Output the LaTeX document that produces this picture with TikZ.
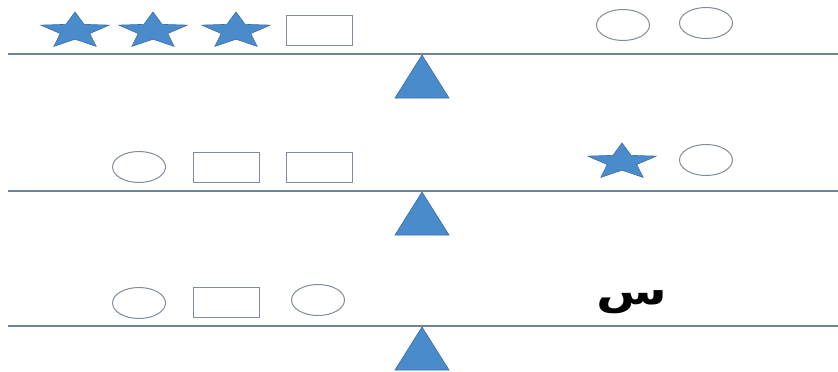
\documentclass[tikz,border=0pt]{standalone}
\usepackage{fontspec}
\usepackage{tikz}
\usetikzlibrary{shapes.geometric}
\TeXXeTstate=1
\newfontfamily\arabicfont[Script=Arabic]{DejaVu Sans}
\definecolor{shapefill}{HTML}{4A8BCB}
\definecolor{shapeedge}{HTML}{3C6E9F}
\definecolor{beam}{HTML}{6F8296}
\definecolor{outline}{HTML}{808C98}

\tikzset{
  bluestar/.pic={
    \filldraw[fill=shapefill, draw=shapeedge, line width=0.6pt]
      (90:36 and -19) \foreach \a in {126,198,270,342,54} {-- (\a:15.5 and -8.2) -- (\a+36:36 and -19)} -- cycle;
  },
  fulcrum/.pic={
    \filldraw[fill=shapefill, draw=shapeedge, line width=0.6pt] (0,0) -- (-27,43) -- (27,43) -- cycle;
  },
}

\begin{document}
\begin{tikzpicture}[
  x=1pt, y=-1pt,
  box/.style={draw=outline, fill=white, line width=1pt, minimum width=66pt, minimum height=30pt, inner sep=0pt},
  oval/.style={draw=outline, fill=white, line width=1pt, ellipse, minimum width=53pt, minimum height=31pt, inner sep=0pt},
  beamline/.style={draw=beam, line width=1.8pt},
]
\useasboundingbox (0,0) rectangle (838,372);

% first balance
\draw[beamline] (8,54) -- (838,54);
\pic (f1) at (422,55) {fulcrum};
\pic (s1) at (75,31) {bluestar};
\pic (s2) at (153,31) {bluestar};
\pic (s3) at (236,31) {bluestar};
\node[box] (b1) at (319,30) {};
\node[oval] (c1) at (623,25) {};
\node[oval] (c2) at (706,23) {};

% second balance
\draw[beamline] (8,191) -- (838,191);
\pic (f2) at (422,192) {fulcrum};
\node[oval] (c3) at (139,167) {};
\node[box] (b2) at (226,167) {};
\node[box] (b3) at (319,167) {};
\pic (s4) at (622,162) {bluestar};
\node[oval] (c4) at (706,160) {};

% third balance
\draw[beamline] (8,326) -- (838,326);
\pic (f3) at (422,327) {fulcrum};
\node[oval] (c5) at (139,303) {};
\node[box] (b4) at (226,302) {};
\node[oval] (c6) at (318,300) {};
\node (x) at (632,302) {\scalebox{1.35}[1]{\arabicfont\bfseries\fontsize{38}{38}\selectfont\beginR س\endR}};

\end{tikzpicture}
\end{document}
